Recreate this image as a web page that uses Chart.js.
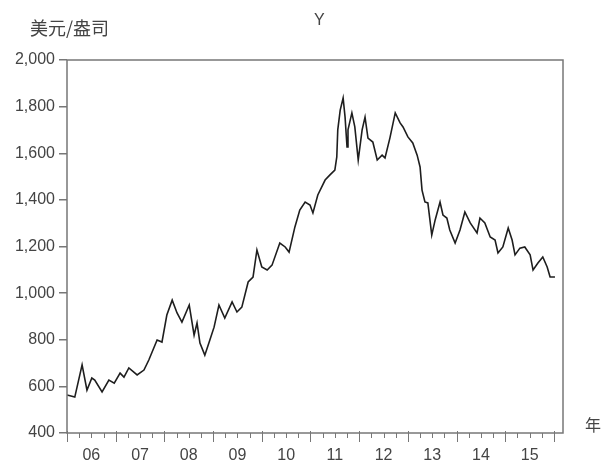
<!DOCTYPE html>
<html lang="zh">
<head>
<meta charset="UTF-8">
<title>Y</title>
<script src="https://cdn.jsdelivr.net/npm/chart.js"></script>
<style>
  body { margin: 0; background: #fff; }
  .wrap { position: relative; width: 604px; height: 467px; }
  .txt { position: absolute; font-family: "Noto Sans CJK SC", "Liberation Sans", sans-serif; font-size: 16px; line-height: 16px; color: #444; white-space: nowrap; }
</style>
</head>
<body>
<div class="wrap">
  <canvas id="goldChart" width="604" height="467"></canvas>
  <div class="txt" style="left:30px;top:18px;font-size:18px;line-height:18px">美元/盎司</div>
  <div class="txt" style="left:314px;top:12px;font-family:'Liberation Sans',Arial">Y</div>
  <div class="txt" style="left:585px;top:416px">年</div>
</div>

<script>
// decimal years
const dates = [
  2006.00, 2006.16, 2006.31, 2006.41, 2006.51, 2006.57, 2006.72, 2006.86, 2006.97,
  2007.09, 2007.17, 2007.27, 2007.44, 2007.58, 2007.68, 2007.85, 2007.95,
  2008.05, 2008.16, 2008.26, 2008.36, 2008.51, 2008.61, 2008.67, 2008.73, 2008.83, 2008.92,
  2009.02, 2009.12, 2009.24, 2009.39, 2009.49, 2009.59, 2009.72, 2009.82, 2009.90,
  2010.00, 2010.11, 2010.21, 2010.37, 2010.48, 2010.56, 2010.68, 2010.78, 2010.89, 2010.99,
  2011.05, 2011.15, 2011.30, 2011.40, 2011.50, 2011.54, 2011.56, 2011.61, 2011.67, 2011.71,
  2011.75, 2011.77, 2011.85, 2011.91, 2011.98,
  2012.06, 2012.12, 2012.18, 2012.28, 2012.37, 2012.47, 2012.53, 2012.63, 2012.74, 2012.84, 2012.90,
  2013.00, 2013.10, 2013.19, 2013.25, 2013.29, 2013.35, 2013.41, 2013.49, 2013.56, 2013.66,
  2013.72, 2013.80, 2013.86, 2013.97,
  2014.07, 2014.17, 2014.28, 2014.42, 2014.48, 2014.58, 2014.69, 2014.79, 2014.85, 2014.95,
  2015.06, 2015.14, 2015.20, 2015.30, 2015.40, 2015.51, 2015.57, 2015.67, 2015.77, 2015.86,
  2015.92, 2016.02
];
const prices = [
  563, 554, 692, 584, 636, 627, 576, 627, 614,
  657, 640, 679, 649, 670, 713, 799, 790,
  906, 970, 915, 876, 949, 820, 872, 786, 734, 790,
  854, 949, 893, 962, 919, 940, 1048, 1069, 1185,
  1112, 1099, 1120, 1215, 1198, 1176, 1284, 1356, 1391, 1378,
  1344, 1421, 1485, 1507, 1528, 1584, 1700, 1785, 1837, 1755,
  1627, 1700, 1773, 1713, 1571,
  1700, 1755, 1665, 1648, 1571, 1592, 1580, 1665, 1773, 1730, 1713,
  1670, 1644, 1592, 1541, 1442, 1391, 1387, 1249, 1314, 1391,
  1335, 1322, 1271, 1215,
  1271, 1348, 1301, 1258, 1322, 1301, 1241, 1228, 1172, 1198,
  1279, 1228, 1164, 1193, 1198, 1164, 1099, 1129, 1155, 1112,
  1069, 1069
];
const yearLabels = ['06', '07', '08', '09', '10', '11', '12', '13', '14', '15'];
const firstYear = 2006;
const yTicks = [400, 600, 800, 1000, 1200, 1400, 1600, 1800, 2000];

Chart.defaults.font.family = "'Liberation Sans', Arial, sans-serif";
Chart.defaults.font.size = 16;
Chart.defaults.color = '#444';

// box round the plot + quarter ticks on the year axis
const frameTicks = {
  id: 'frameTicks',
  afterDraw(chart) {
    const { ctx, chartArea: a } = chart;
    const x = chart.scales.x;
    ctx.save();
    ctx.strokeStyle = '#777';
    ctx.lineWidth = 1.5;
    ctx.strokeRect(a.left, a.top, a.right - a.left, a.bottom - a.top);
    ctx.lineWidth = 1;
    ctx.beginPath();
    const lastYear = firstYear + yearLabels.length;
    for (let q = firstYear * 4; q <= lastYear * 4; q++) {
      const px = Math.round(x.getPixelForValue(q / 4)) + 0.5;
      const major = q % 4 === 0;
      ctx.moveTo(px, a.bottom - (major ? 2 : 0));
      ctx.lineTo(px, a.bottom + (major ? 9 : 5));
    }
    ctx.stroke();
    ctx.restore();
  }
};

const ctx = document.getElementById('goldChart').getContext('2d');
new Chart(ctx, {
  type: 'line',
  data: {
    datasets: [{
      label: 'Y',
      data: dates.map((d, i) => ({ x: d, y: prices[i] })),
      borderColor: '#1e1e1e',
      borderWidth: 1.6,
      pointRadius: 0,
      tension: 0,
      fill: false
    }]
  },
  options: {
    responsive: false,
    animation: false,
    layout: { padding: { top: 60, right: 41, left: 0, bottom: 0 } },
    plugins: {
      legend: { display: false },
      tooltip: { enabled: false }
    },
    scales: {
      x: {
        type: 'linear',
        min: firstYear,
        max: 2016.185,
        grid: { display: false, drawTicks: false },
        border: { display: false },
        afterBuildTicks: axis => {
          axis.ticks = yearLabels.map((l, i) => ({ value: firstYear + i + 0.5 }));
        },
        afterFit: axis => { axis.height = 34; },
        ticks: {
          autoSkip: false,
          maxRotation: 0,
          padding: 13,
          callback: (v, i) => yearLabels[i]
        }
      },
      y: {
        min: 400,
        max: 2000,
        grid: { drawOnChartArea: false, tickLength: 8, color: '#777', lineWidth: 1.5 },
        border: { display: false },
        afterBuildTicks: axis => {
          axis.ticks = yTicks.map(v => ({ value: v }));
        },
        afterFit: axis => { axis.width = 67; },
        ticks: {
          padding: 4,
          callback: v => v.toLocaleString('en-US')
        }
      }
    }
  },
  plugins: [frameTicks]
});
</script>
</body>
</html>
